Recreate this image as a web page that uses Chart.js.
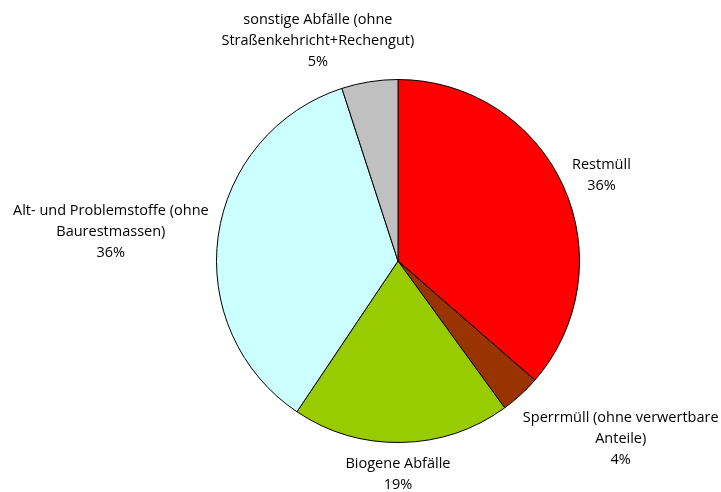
<!DOCTYPE html>
<html>
<head>
<meta charset="utf-8">
<script src="https://cdn.jsdelivr.net/npm/chart.js@4.4.1/dist/chart.umd.min.js"></script>
<style>
html,body{margin:0;padding:0;background:#fff;}
#wrap{width:721px;height:492px;}
</style>
</head>
<body>
<div id="wrap"><canvas id="c" width="721" height="492"></canvas></div>
<script>
const categories = [
  ["Restmüll"],
  ["Sperrmüll (ohne verwertbare", "Anteile)"],
  ["Biogene Abfälle"],
  ["Alt- und Problemstoffe (ohne", "Baurestmassen)"],
  ["sonstige Abfälle (ohne", "Straßenkehricht+Rechengut)"]
];
const shares = [36.4, 3.6, 19.4, 35.6, 5.0];
const colors = ["#FF0000", "#993300", "#99CC00", "#CCFFFF", "#C0C0C0"];

// label styling (not data)
const FONT_SIZE = 14.5;
const FONT = FONT_SIZE + 'px "Open Sans", "Noto Sans", sans-serif';
const CAP_H = 0.714 * FONT_SIZE;
const LINE_H = 21;
const GAP = 14;
// small per-label shifts, mimicking the spreadsheet's label collision layout
const labelShift = [[-5, 8], [38, -25], [-4, 1], [6, 11], [-45, 1]];

const outsideLabels = {
  id: 'outsideLabels',
  afterDatasetsDraw(chart) {
    const ctx = chart.ctx;
    const meta = chart.getDatasetMeta(0);
    const total = shares.reduce((a, b) => a + b, 0);
    ctx.save();
    ctx.font = FONT;
    ctx.fillStyle = '#000';
    ctx.textAlign = 'center';
    ctx.textBaseline = 'alphabetic';
    meta.data.forEach((arc, i) => {
      const p = arc.getProps(['x', 'y', 'startAngle', 'endAngle', 'outerRadius'], true);
      const mid = (p.startAngle + p.endAngle) / 2;
      const dx = Math.cos(mid), dy = Math.sin(mid);
      const lines = categories[i].concat([Math.round(shares[i] / total * 100) + '%']);
      const hw = Math.max(...lines.map(l => ctx.measureText(l).width)) / 2;
      const hh = (CAP_H + (lines.length - 1) * LINE_H) / 2;
      const need = p.outerRadius + GAP;
      let t = p.outerRadius;
      for (; t < 600; t += 0.5) {
        const cx = t * dx, cy = t * dy;
        const nx = Math.max(Math.abs(cx) - hw, 0) * Math.sign(cx);
        const ny = Math.max(Math.abs(cy) - hh, 0) * Math.sign(cy);
        if (Math.hypot(nx, ny) >= need) break;
      }
      const bx = p.x + t * dx + labelShift[i][0];
      const by = p.y + t * dy + labelShift[i][1];
      lines.forEach((l, k) => {
        ctx.fillText(l, bx, by - hh + CAP_H + LINE_H * k);
      });
    });
    ctx.restore();
  }
};

new Chart(document.getElementById('c'), {
  type: 'pie',
  data: {
    labels: categories.map(c => c.join(' ')),
    datasets: [{ data: shares, backgroundColor: colors, borderColor: '#000', borderWidth: 1 }]
  },
  options: {
    responsive: false,
    animation: false,
    layout: { padding: { top: 79, bottom: 49, left: 216, right: 141 } },
    plugins: { legend: { display: false }, tooltip: { enabled: false } },
    events: []
  },
  plugins: [outsideLabels]
});
</script>
</body>
</html>
